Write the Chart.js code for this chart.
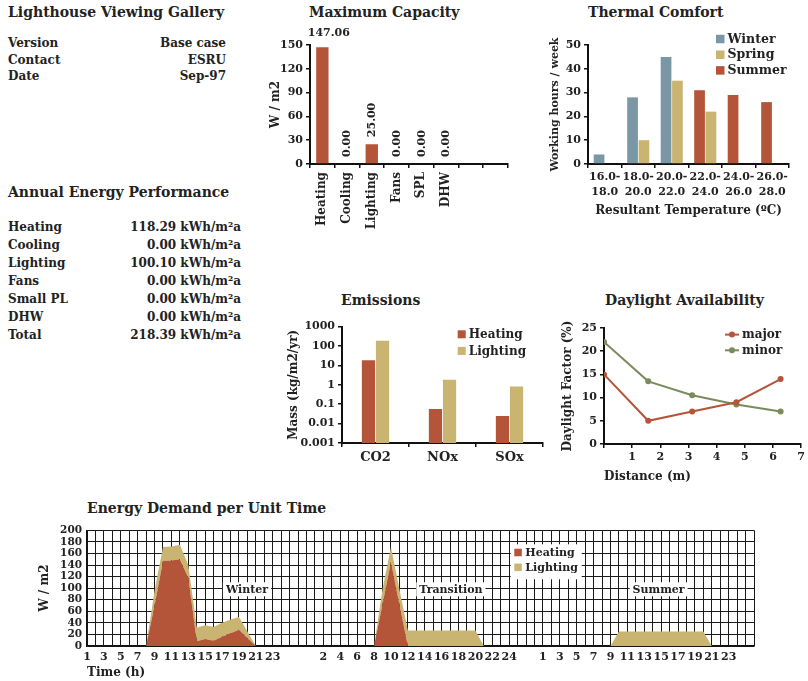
<!DOCTYPE html>
<html><head><meta charset="utf-8">
<script src="https://cdn.jsdelivr.net/npm/chart.js@4.4.0/dist/chart.umd.min.js"></script>
<style>
body{margin:0;background:#fff;width:808px;height:681px;overflow:hidden;position:relative;font-family:"DejaVu Serif",serif;color:#222;}
.abs{position:absolute;white-space:nowrap;font-weight:bold;}
.title{font-size:14px;line-height:18px;}
.row{font-size:12px;line-height:16px;}
canvas{position:absolute;}
</style></head><body>
<script>
// ---------- data ----------
const infoLabels = ['Version','Contact','Date'];
const infoValues = ['Base case','ESRU','Sep-97'];
const annualLabels = ['Heating','Cooling','Lighting','Fans','Small PL','DHW','Total'];
const annualValues = ['118.29','0.00','100.10','0.00','0.00','0.00','218.39'];
const annualUnit = 'kWh/m²a';

const capCategories = ['Heating','Cooling','Lighting','Fans','SPL','DHW','',''];
const capValues = [147.06, 0, 25, 0, 0, 0, null, null];

const tempBands = [['16.0-','18.0'],['18.0-','20.0'],['20.0-','22.0'],['22.0-','24.0'],['24.0-','26.0'],['26.0-','28.0']];
const winterHours = [4, 28, 45, 0, 0, 0];
const springHours = [0, 10, 35, 22, 0, 0];
const summerHours = [0, 0, 0, 31, 29, 26];

const pollutants = ['CO2','NOx','SOx'];
const heatingEmissions = [18.4, 0.056, 0.025];
const lightingEmissions = [184, 1.84, 0.82];
const emissionTicks = [0.001, 0.01, 0.1, 1, 10, 100, 1000];
const emissionTickLabels = ['0.001','0.01','0.1','1','10','100','1000'];

const distances = [0, 1.57, 3.13, 4.7, 6.27];
const majorDF = [15, 5, 7, 9, 14];
const minorDF = [22, 13.5, 10.5, 8.5, 7];

// hourly demand (hours 1..24)
const winterHeating = [0,0,0,0,0,0,0,0,70,147,148,150,118,8,12,9,16,22,28,14,0,0,0,0];
const winterLighting = [0,0,0,0,0,0,0,0,25,24,24,25,22,24,24,24,24,24,22,11,0,0,0,0];
const transitionHeating = [0,0,0,0,0,0,0,0,72,145,72,0,0,0,0,0,0,0,0,0,0,0,0,0];
const transitionLighting = [0,0,0,0,0,0,0,0,26,26,26,27,27,27,27,27,27,27,27,27,0,0,0,0];
const summerHeating = [0,0,0,0,0,0,0,0,0,0,0,0,0,0,0,0,0,0,0,0,0,0,0,0];
const summerLighting = [0,0,0,0,0,0,0,0,0,25,25,25,25,25,25,25,25,25,25,25,0,0,0,0];
const winterTickHours = [1,3,5,7,9,11,13,15,17,19,21,23];
const transitionTickHours = [2,4,6,8,10,12,14,16,18,20,22,24];
const summerTickHours = [1,3,5,7,9,11,13,15,17,19,21,23];
const seasonNames = ['Winter','Transition','Summer'];
const gapAfter = [3, 3, 2];

// ---------- style ----------
const FONT = '"DejaVu Serif", serif';
const INK = '#222';
const RUST = '#B4553A', TAN = '#C9B571', BLUE = '#7A97A6', OLIVE = '#7B8B5B';

// ---------- text blocks ----------
function addText(txt, cls, left, cy, lh, alignRight){
  const d = document.createElement('div');
  d.className = 'abs ' + cls;
  d.textContent = txt;
  d.style.top = (cy - lh/2) + 'px';
  if (alignRight) { d.style.right = (808 - left) + 'px'; } else { d.style.left = left + 'px'; }
  document.body.appendChild(d);
}
addText('Lighthouse Viewing Gallery','title',8,12,18);
infoLabels.forEach((l,i)=>{ addText(l,'row',8,43+i*16.5,16); addText(infoValues[i],'row',226,43+i*16.5,16,true); });
addText('Annual Energy Performance','title',8,192,18);
annualLabels.forEach((l,i)=>{ addText(l,'row',8,227+i*18,16); addText(annualValues[i]+' '+annualUnit,'row',241,227+i*18,16,true); });
addText('Maximum Capacity','title',309,12,18);
addText('Thermal Comfort','title',588,12,18);
addText('Emissions','title',341,300,18);
addText('Daylight Availability','title',605,300,18);
addText('Energy Demand per Unit Time','title',87,508,18);

// ---------- chart helpers ----------
Chart.defaults.font.family = FONT;
Chart.defaults.font.weight = 'bold';
Chart.defaults.font.size = 11;
Chart.defaults.color = INK;
Chart.defaults.animation = false;
Chart.defaults.plugins.legend.display = false;
Chart.defaults.plugins.tooltip.enabled = false;

function makeCanvas(left, top, w, h){
  const c = document.createElement('canvas');
  c.width = w; c.height = h;
  c.style.left = left + 'px'; c.style.top = top + 'px';
  c.style.width = w + 'px'; c.style.height = h + 'px';
  document.body.appendChild(c);
  return c.getContext('2d');
}
function fixed(size){ return function(scale){ if (scale.isHorizontal()) scale.height = size; else scale.width = size; }; }
function axisStyle(){
  return {
    border:{display:true,color:'#111',width:2},
    grid:{display:true,drawOnChartArea:false,drawTicks:true,tickLength:4,color:'#111',lineWidth:1.5},
  };
}
function axisTitle(text, pad, size){ return {display:true,text:text,color:INK,font:{size:size||12,weight:'bold'},padding:pad}; }

const boxLegend = {
  id:'boxLegend',
  afterDraw(chart, args, o){
    if (!o || !o.show) return;
    const {ctx, chartArea} = chart;
    ctx.save();
    const x0 = chartArea.left + o.dx, y0 = chartArea.top + o.dy;
    if (o.bg) { ctx.fillStyle = '#fff'; ctx.fillRect(chartArea.left + o.bg[0], chartArea.top + o.bg[1], o.bg[2], o.bg[3]); }
    ctx.font = 'bold ' + o.size + 'px ' + FONT;
    ctx.textBaseline = 'middle'; ctx.textAlign = 'left';
    chart.data.datasets.forEach((d,i)=>{
      const cy = y0 + i*o.step;
      if (o.type === 'line') {
        ctx.strokeStyle = d.borderColor; ctx.lineWidth = 2;
        ctx.beginPath(); ctx.moveTo(x0, cy); ctx.lineTo(x0 + o.mark, cy); ctx.stroke();
        ctx.fillStyle = d.borderColor; ctx.beginPath(); ctx.arc(x0 + o.mark/2, cy, 3, 0, Math.PI*2); ctx.fill();
      } else {
        ctx.fillStyle = d.backgroundColor; ctx.fillRect(x0, cy - o.mark/2, o.mark, o.mark);
      }
      ctx.fillStyle = INK; ctx.fillText(d.label, x0 + o.mark + o.gap, cy + 0.5);
    });
    ctx.restore();
  }
};

const barValueLabels = {
  id:'barValueLabels',
  afterDatasetsDraw(chart, args, o){
    const {ctx, chartArea} = chart;
    const meta = chart.getDatasetMeta(0);
    const data = chart.data.datasets[0].data;
    ctx.font = 'bold ' + o.size + 'px ' + FONT;
    ctx.fillStyle = INK;
    meta.data.forEach((bar,i)=>{
      const v = data[i]; if (v === null || v === undefined) return;
      const txt = v.toFixed(2);
      const w = ctx.measureText(txt).width;
      ctx.save();
      if (bar.y - o.gap - w < chartArea.top) {
        ctx.textAlign = 'center'; ctx.textBaseline = 'middle';
        ctx.fillText(txt, bar.x + o.shift, chartArea.top - o.above);
      } else {
        ctx.translate(bar.x, bar.y - o.gap); ctx.rotate(-Math.PI/2);
        ctx.textAlign = 'left'; ctx.textBaseline = 'middle';
        ctx.fillText(txt, 0, 0.5);
      }
      ctx.restore();
    });
  }
};

const seasonLabels = {
  id:'seasonLabels',
  afterDatasetsDraw(chart, args, o){
    const {ctx, scales:{x, y}} = chart;
    ctx.save();
    ctx.font = 'bold ' + o.size + 'px ' + FONT;
    ctx.textAlign = 'center'; ctx.textBaseline = 'middle';
    o.items.forEach(it=>{
      const px = x.getPixelForValue(it.at), py = y.getPixelForValue(it.y);
      const w = ctx.measureText(it.text).width;
      ctx.fillStyle = '#fff'; ctx.fillRect(px - w/2 - 3, py - 7, w + 6, 14);
      ctx.fillStyle = INK; ctx.fillText(it.text, px, py + 0.5);
    });
    ctx.restore();
  }
};

// ---------- Maximum Capacity ----------
(function(){
  const ctx = makeCanvas(262, 22, 252, 210);
  const ax = axisStyle(), ay = axisStyle();
  new Chart(ctx, {
    type:'bar',
    data:{labels:capCategories, datasets:[{label:'Capacity', data:capValues, backgroundColor:RUST, categoryPercentage:0.5, barPercentage:1}]},
    options:{
      responsive:false, devicePixelRatio:1,
      layout:{padding:{top:23,right:4,left:0,bottom:0}},
      scales:{
        x:{...ax, ticks:{autoSkip:false,minRotation:90,maxRotation:90,padding:4,font:{size:12}}, afterFit:fixed(68)},
        y:{...ay, min:0, max:150, ticks:{stepSize:30,padding:3}, title:axisTitle('W / m2',{top:7,bottom:0}), afterFit:fixed(48)}
      },
      plugins:{barValueLabels:{size:11, gap:7, above:12, shift:6.5}}
    },
    plugins:[barValueLabels]
  });
})();

// ---------- Thermal Comfort ----------
(function(){
  const ctx = makeCanvas(540, 28, 262, 196);
  const ax = axisStyle(), ay = axisStyle();
  new Chart(ctx, {
    type:'bar',
    data:{labels:tempBands, datasets:[
      {label:'Winter', data:winterHours, backgroundColor:BLUE, stack:'a'},
      {label:'Spring', data:springHours, backgroundColor:TAN, stack:'b'},
      {label:'Summer', data:summerHours, backgroundColor:RUST, stack:'a'}
    ]},
    options:{
      responsive:false, devicePixelRatio:1,
      datasets:{bar:{categoryPercentage:0.68, barPercentage:0.94}},
      layout:{padding:{top:17,right:13,left:0,bottom:0}},
      scales:{
        x:{...ax, ticks:{autoSkip:false,maxRotation:0,padding:2,font:{size:11,lineHeight:1.35}}, title:axisTitle('Resultant Temperature (ºC)',{top:0,bottom:5.5},12), afterFit:fixed(60)},
        y:{...ay, stacked:true, min:0, max:50, ticks:{stepSize:10,padding:3}, title:axisTitle('Working hours / week',{top:9,bottom:0},11), afterFit:fixed(48)}
      },
      plugins:{boxLegend:{show:true, dx:128, dy:-6, step:15.7, mark:8.5, gap:3, size:12.5}}
    },
    plugins:[boxLegend]
  });
})();

// ---------- Emissions ----------
(function(){
  const ctx = makeCanvas(283, 317, 265, 153);
  const ax = axisStyle(), ay = axisStyle();
  new Chart(ctx, {
    type:'bar',
    data:{labels:pollutants, datasets:[
      {label:'Heating', data:heatingEmissions, backgroundColor:RUST},
      {label:'Lighting', data:lightingEmissions, backgroundColor:TAN}
    ]},
    options:{
      responsive:false, devicePixelRatio:1,
      datasets:{bar:{categoryPercentage:0.42, barPercentage:0.94}},
      layout:{padding:{top:7,right:5,left:0,bottom:0}},
      scales:{
        x:{...ax, ticks:{padding:3,font:{size:13}}, afterFit:fixed(27)},
        y:{...ay, type:'logarithmic', min:0.001, max:1000,
           afterBuildTicks:(s)=>{ s.ticks = emissionTicks.map(v=>({value:v})); },
           ticks:{padding:3, callback:(v)=>emissionTickLabels[emissionTicks.indexOf(v)]},
           title:axisTitle('Mass (kg/m2/yr)',{top:4,bottom:0}), afterFit:fixed(59)}
      },
      plugins:{boxLegend:{show:true, dx:115.7, dy:7.7, step:16.6, mark:8, gap:3, size:12}}
    },
    plugins:[boxLegend]
  });
})();

// ---------- Daylight Availability ----------
(function(){
  const ctx = makeCanvas(556, 318, 252, 166);
  const ax = axisStyle(), ay = axisStyle();
  const pts = (ys)=>ys.map((y,i)=>({x:distances[i], y:y}));
  new Chart(ctx, {
    type:'scatter',
    data:{datasets:[
      {label:'major', data:pts(majorDF), showLine:true, borderColor:RUST, backgroundColor:RUST, borderWidth:2, pointRadius:3, pointBackgroundColor:RUST, pointBorderWidth:0},
      {label:'minor', data:pts(minorDF), showLine:true, borderColor:OLIVE, backgroundColor:OLIVE, borderWidth:2, pointRadius:3, pointBackgroundColor:OLIVE, pointBorderWidth:0}
    ]},
    options:{
      responsive:false, devicePixelRatio:1,
      layout:{padding:{top:10,right:6,left:0,bottom:0}},
      scales:{
        x:{...ax, type:'linear', min:0, max:7, ticks:{stepSize:1,padding:3,callback:(v)=>v===0?'':String(v)},
           title:{...axisTitle('Distance (m)',{top:0,bottom:0}), align:'start'}, afterFit:fixed(40)},
        y:{...ay, min:0, max:25, ticks:{stepSize:5,padding:3}, title:axisTitle('Daylight Factor (%)',{top:4.5,bottom:0}), afterFit:fixed(48)}
      },
      plugins:{boxLegend:{show:true, type:'line', dx:121, dy:6.6, step:15.7, mark:14, gap:3, size:12}}
    },
    plugins:[boxLegend]
  });
})();

// ---------- Energy Demand per Unit Time ----------
(function(){
  const seasons = [
    {heat:winterHeating, light:winterLighting, ticks:winterTickHours},
    {heat:transitionHeating, light:transitionLighting, ticks:transitionTickHours},
    {heat:summerHeating, light:summerLighting, ticks:summerTickHours}
  ];
  const labels = [], heat = [], light = [];
  seasons.forEach((s,si)=>{
    for (let h = 1; h <= 24; h++) {
      labels.push(s.ticks.indexOf(h) >= 0 ? String(h) : '');
      heat.push(s.heat[h-1]); light.push(s.light[h-1]);
    }
    for (let g = 0; g < gapAfter[si]; g++) { labels.push(''); heat.push(null); light.push(null); }
  });
  const seasonAt = [18.95, 43.1, 67.7];
  const ctx = makeCanvas(30, 519, 730, 162);
  new Chart(ctx, {
    type:'line',
    data:{labels:labels, datasets:[
      {label:'Heating', data:heat, fill:'origin', backgroundColor:RUST, borderColor:RUST, borderWidth:0, pointRadius:0, tension:0},
      {label:'Lighting', data:light, fill:'-1', backgroundColor:TAN, borderColor:TAN, borderWidth:0, pointRadius:0, tension:0}
    ]},
    options:{
      responsive:false, devicePixelRatio:1,
      layout:{padding:{top:7,right:6,left:0,bottom:0}},
      scales:{
        x:{type:'category', offset:false, border:{display:true,color:'#111',width:1.5},
           grid:{display:true,offset:false,drawTicks:false,color:'#1a1a1a',lineWidth:1},
           ticks:{autoSkip:false,maxRotation:0,padding:5,font:{size:11}},
           title:{...axisTitle('Time (h)',{top:0,bottom:0.5}), align:'start'}, afterFit:fixed(35)},
        y:{stacked:true, min:0, max:200, border:{display:true,color:'#111',width:1.5},
           grid:{display:true,drawTicks:false,color:'#1a1a1a',lineWidth:1},
           ticks:{stepSize:20,autoSkip:false,padding:5,font:{size:10.5}},
           title:axisTitle('W / m2',{top:8,bottom:0}), afterFit:fixed(57)}
      },
      plugins:{
        boxLegend:{show:true, dx:427.3, dy:22.2, step:14.8, mark:7.5, gap:3.5, size:11, bg:[423.7,14,71,35]},
        seasonLabels:{size:11, items:seasonNames.map((n,i)=>({text:n, at:seasonAt[i], y:98}))}
      }
    },
    plugins:[seasonLabels, boxLegend]
  });
})();
</script>
</body></html>
